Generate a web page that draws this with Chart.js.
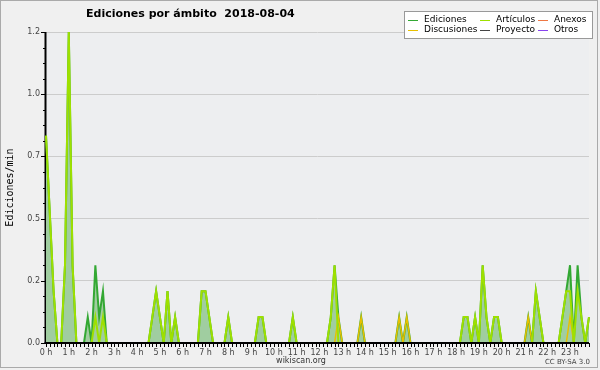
<!DOCTYPE html>
<html>
<head>
<meta charset="utf-8">
<script src="https://cdn.jsdelivr.net/npm/chart.js@4"></script>
<style>
  html, body { margin: 0; padding: 0; background: #f0f0f0; }
  #wrap { width: 600px; height: 370px; }
</style>
</head>
<body>
<div id="wrap"><canvas id="graph" width="600" height="370"></canvas></div>
<script>
// Texts
const chartTitle = 'Ediciones por ámbito  2018-08-04';
const yTitle = 'Ediciones/min';
const hourLabels = ['0 h', '1 h', '2 h', '3 h', '4 h', '5 h', '6 h', '7 h', '8 h', '9 h', '10 h', '11 h',
    '12 h', '13 h', '14 h', '15 h', '16 h', '17 h', '18 h', '19 h', '20 h', '21 h', '22 h', '23 h'];
const yTicks = [0, 0.24, 0.48, 0.72, 0.96, 1.2];

// Edits per minute, one value every 10 minutes (2 hours per row)
const ediciones = [
    0.8, 0.5, 0.2, 0, 0, 0.3, 1.2, 0.3, 0, 0, 0, 0.1,
    0, 0.3, 0.1, 0.2, 0, 0, 0, 0, 0, 0, 0, 0,
    0, 0, 0, 0, 0.1, 0.2, 0.1, 0, 0.2, 0, 0.1, 0,
    0, 0, 0, 0, 0, 0.2, 0.2, 0.1, 0, 0, 0, 0,
    0.1, 0, 0, 0, 0, 0, 0, 0, 0.1, 0.1, 0, 0,
    0, 0, 0, 0, 0, 0.1, 0, 0, 0, 0, 0, 0,
    0, 0, 0, 0.1, 0.3, 0.1, 0, 0, 0, 0, 0, 0.1,
    0, 0, 0, 0, 0, 0, 0, 0, 0, 0.1, 0, 0.1,
    0, 0, 0, 0, 0, 0, 0, 0, 0, 0, 0, 0,
    0, 0, 0.1, 0.1, 0, 0.1, 0, 0.3, 0.1, 0, 0.1, 0.1,
    0, 0, 0, 0, 0, 0, 0, 0.1, 0, 0.2, 0.1, 0,
    0, 0, 0, 0, 0.1, 0.2, 0.3, 0, 0.3, 0.1, 0, 0.1
];
const articulos = [
    0.8, 0.5, 0.2, 0, 0, 0.3, 1.2, 0.3, 0, 0, 0, 0,
    0, 0.1, 0, 0.1, 0, 0, 0, 0, 0, 0, 0, 0,
    0, 0, 0, 0, 0.1, 0.2, 0.1, 0, 0.2, 0, 0.1, 0,
    0, 0, 0, 0, 0, 0.2, 0.2, 0.1, 0, 0, 0, 0,
    0.1, 0, 0, 0, 0, 0, 0, 0, 0.1, 0.1, 0, 0,
    0, 0, 0, 0, 0, 0.1, 0, 0, 0, 0, 0, 0,
    0, 0, 0, 0.1, 0.3, 0, 0, 0, 0, 0, 0, 0,
    0, 0, 0, 0, 0, 0, 0, 0, 0, 0, 0, 0,
    0, 0, 0, 0, 0, 0, 0, 0, 0, 0, 0, 0,
    0, 0, 0.1, 0.1, 0, 0.1, 0, 0.3, 0.1, 0, 0.1, 0.1,
    0, 0, 0, 0, 0, 0, 0, 0, 0, 0.2, 0.1, 0,
    0, 0, 0, 0, 0.1, 0.2, 0.2, 0, 0.2, 0.1, 0, 0.1
];
const discusiones = [
    0, 0, 0, 0, 0, 0, 0, 0, 0, 0, 0, 0,
    0, 0, 0, 0, 0, 0, 0, 0, 0, 0, 0, 0,
    0, 0, 0, 0, 0, 0, 0, 0, 0, 0, 0, 0,
    0, 0, 0, 0, 0, 0, 0, 0, 0, 0, 0, 0,
    0, 0, 0, 0, 0, 0, 0, 0, 0, 0, 0, 0,
    0, 0, 0, 0, 0, 0, 0, 0, 0, 0, 0, 0,
    0, 0, 0, 0, 0, 0.1, 0, 0, 0, 0, 0, 0.1,
    0, 0, 0, 0, 0, 0, 0, 0, 0, 0.1, 0, 0.1,
    0, 0, 0, 0, 0, 0, 0, 0, 0, 0, 0, 0,
    0, 0, 0, 0, 0, 0, 0, 0, 0, 0, 0, 0,
    0, 0, 0, 0, 0, 0, 0, 0.1, 0, 0, 0, 0,
    0, 0, 0, 0, 0, 0, 0.1, 0, 0, 0, 0, 0
];
// nothing visible for these on that day
const proyecto = [];
const anexos = [];
const otros = [];

// 10 minute slots, labelled by hour
const slots = [];
hourLabels.forEach((h, i) => {
    for (let m = 0; m < 6; m++) slots.push(i + ':' + m + '0');
});

const FONT = 'DejaVu Sans';

const decor = {
    id: 'decor',
    beforeDraw(chart) {
        const { ctx, chartArea: a } = chart;
        ctx.save();
        ctx.fillStyle = '#f0f0f0';
        ctx.fillRect(0, 0, chart.width, chart.height);
        ctx.fillStyle = '#edeef0';
        ctx.fillRect(a.left, a.top, a.right - a.left, a.bottom - a.top);
        ctx.restore();
    },
    beforeDatasetsDraw(chart) {
        // y axis sits under the series, as in the original
        const { ctx, chartArea: a } = chart;
        const ys = chart.scales.y;
        ctx.save();
        ctx.strokeStyle = '#000';
        ctx.lineWidth = 1;
        ctx.beginPath();
        for (let k = 0; k <= 20; k++) {
            const y = Math.round(ys.getPixelForValue(k * 0.06)) + 0.5;
            const len = k % 4 === 0 ? 5 : 3;
            ctx.moveTo(a.left - len, y);
            ctx.lineTo(a.left, y);
        }
        ctx.stroke();
        ctx.lineWidth = 2;
        ctx.beginPath();
        ctx.moveTo(a.left - 0.5, a.top);
        ctx.lineTo(a.left - 0.5, a.bottom);
        ctx.stroke();
        ctx.restore();
    },
    afterDatasetsDraw(chart) {
        const { ctx, chartArea: a } = chart;
        const xs = chart.scales.x;
        ctx.save();
        ctx.strokeStyle = '#000';
        ctx.lineWidth = 1;
        ctx.beginPath();
        for (let i = 0; i < slots.length; i++) {
            const x = Math.round(xs.getPixelForValue(i)) + 0.5;
            ctx.moveTo(x, a.bottom);
            ctx.lineTo(x, a.bottom + 4);
        }
        ctx.stroke();
        ctx.lineWidth = 2;
        ctx.beginPath();
        ctx.moveTo(a.left - 1.5, a.bottom);
        ctx.lineTo(a.right, a.bottom);
        ctx.stroke();
        ctx.restore();
    },
    afterDraw(chart) {
        const ctx = chart.ctx;
        ctx.save();
        // title
        ctx.fillStyle = '#000';
        ctx.font = 'bold 11px "' + FONT + '"';
        ctx.textBaseline = 'middle';
        ctx.textAlign = 'left';
        ctx.fillText(chartTitle, 86, 14);

        // legend box
        ctx.fillStyle = '#fff';
        ctx.fillRect(404, 11, 189, 28);
        ctx.strokeStyle = '#999';
        ctx.lineWidth = 1;
        ctx.strokeRect(404.5, 11.5, 188, 27);
        const order = ['Ediciones', 'Artículos', 'Anexos', 'Discusiones', 'Proyecto', 'Otros'];
        const colX = [408, 480, 538];
        const rowY = [20, 30];
        ctx.font = '9px "' + FONT + '"';
        order.forEach((name, i) => {
            const ds = chart.data.datasets.find(d => d.label === name);
            const x = colX[i % 3], y = rowY[Math.floor(i / 3)];
            ctx.strokeStyle = ds.borderColor;
            ctx.lineWidth = 1;
            ctx.beginPath();
            ctx.moveTo(x, y + 0.5);
            ctx.lineTo(x + 10, y + 0.5);
            ctx.stroke();
            ctx.fillStyle = '#000';
            ctx.fillText(name, x + 16, y);
        });

        // footer texts
        ctx.fillStyle = '#333';
        ctx.font = '8px "' + FONT + '"';
        ctx.textAlign = 'center';
        ctx.fillText('wikiscan.org', 301, 361);
        ctx.font = '7px "' + FONT + '"';
        ctx.textAlign = 'right';
        ctx.fillStyle = '#444';
        ctx.fillText('CC BY-SA 3.0', 590, 362);

        // frame
        ctx.strokeStyle = '#aaa';
        ctx.strokeRect(0.5, 0.5, 597, 367);
        ctx.restore();
    }
};

const ctx = document.getElementById('graph').getContext('2d');
const chart = new Chart(ctx, {
    type: 'line',
    data: {
        labels: slots,
        datasets: [
            { label: 'Artículos', data: articulos, borderColor: '#9ee000', borderWidth: 2 },
            { label: 'Discusiones', data: discusiones, borderColor: '#e8c000', borderWidth: 1.5 },
            { label: 'Proyecto', data: proyecto, borderColor: '#444444', borderWidth: 1.5 },
            { label: 'Anexos', data: anexos, borderColor: '#ee7744', borderWidth: 1.5 },
            { label: 'Otros', data: otros, borderColor: '#8844ee', borderWidth: 1.5 },
            {
                label: 'Ediciones', data: ediciones, borderColor: '#33a833', borderWidth: 2,
                backgroundColor: '#a0cda0', fill: 'origin'
            }
        ]
    },
    options: {
        responsive: false,
        animation: false,
        events: [],
        elements: { point: { radius: 0 }, line: { tension: 0 } },
        layout: { padding: { top: 32, right: 11, left: 0, bottom: 0 } },
        plugins: { legend: { display: false }, tooltip: { enabled: false } },
        scales: {
            x: {
                type: 'category',
                offset: false,
                afterFit: s => { s.height = 27; },
                grid: { display: false, drawTicks: false },
                border: { display: false },
                ticks: {
                    autoSkip: false, maxRotation: 0, minRotation: 0, padding: 5,
                    color: '#444', font: { family: FONT, size: 8 },
                    callback: (v, i) => (i % 6 === 0 ? hourLabels[i / 6] : '')
                }
            },
            y: {
                min: 0,
                max: yTicks[yTicks.length - 1],
                afterFit: s => { s.width = 46; },
                afterBuildTicks: s => { s.ticks = yTicks.map(v => ({ value: v })); },
                grid: { color: '#cccccc', drawTicks: false },
                border: { display: false },
                ticks: {
                    padding: 6, color: '#444', font: { family: FONT, size: 8 },
                    callback: v => Number(v).toFixed(1)
                },
                title: {
                    display: true, text: yTitle, color: '#000',
                    font: { family: 'DejaVu Sans Mono', size: 10 },
                    padding: { top: 4, bottom: 0 }
                }
            }
        }
    },
    plugins: [decor]
});
</script>
</body>
</html>
